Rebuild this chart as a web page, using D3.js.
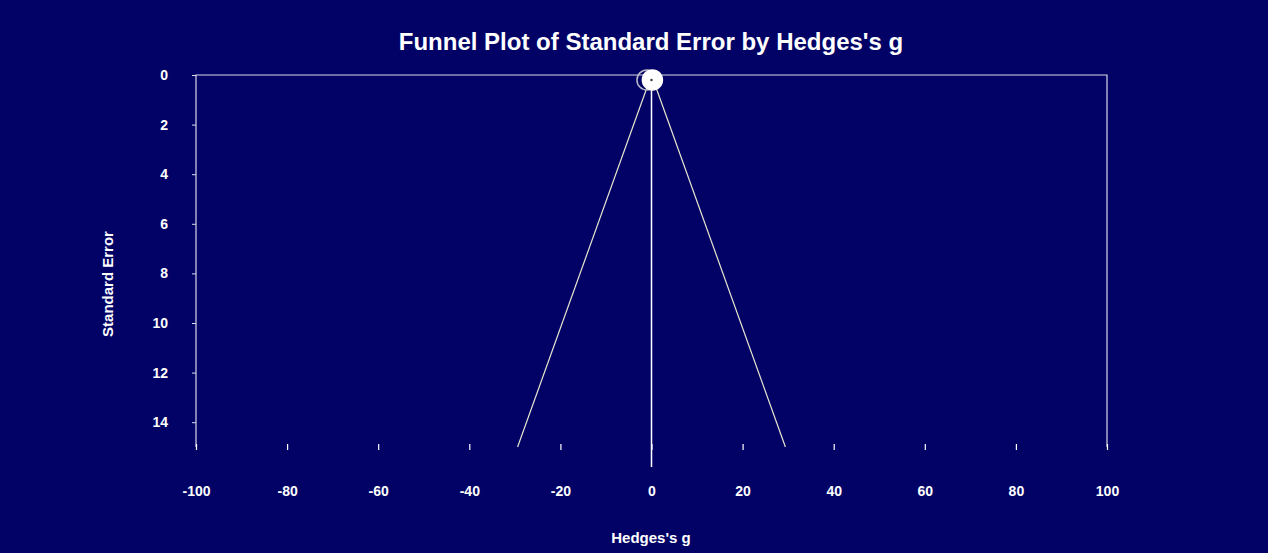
<!DOCTYPE html>
<html><head><meta charset="utf-8">
<script src="https://cdn.jsdelivr.net/npm/d3@7"></script>
<style>
html,body{margin:0;padding:0;background:#020266;}
svg{display:block;}
text{font-family:"Liberation Sans",Arial,sans-serif;font-weight:bold;fill:#fff;}
</style></head><body>
<svg id="chart" width="1268" height="553"></svg>
<script>
const xTicks = [-100,-80,-60,-40,-20,0,20,40,60,80,100];
const yTicks = [0,2,4,6,8,10,12,14];
const studyG = [-1.0, 0.2];
const studySE = [0.2, 0.2];
const studyFilled = [false, true];
const pooledG = [0.0];
const funnelSE = [0, 15];
const zCrit = 1.96;

const W = 1268, H = 553;
const L = 196, R = 1107, T = 75, B = 447;
const svg = d3.select("#chart");
svg.append("rect").attr("width",W).attr("height",H).attr("fill","#020266");

const x = d3.scaleLinear().domain([-100,100]).range([L,R]);
const y = d3.scaleLinear().domain([0,15]).range([T,B]);
const fmt = d => String(d);

// plot frame: top, left, right
svg.append("path")
  .attr("d", `M${x(-100)},${y(15)}V${y(0)}H${x(100)}V${y(15)}`)
  .attr("fill","none").attr("stroke","#d8d8e8").attr("stroke-width",1.2);

// y axis ticks & labels
const yAxis = d3.axisLeft(y).tickValues(yTicks).tickSize(4).tickPadding(24).tickFormat(fmt);
const gy = svg.append("g").attr("transform",`translate(${L},0)`).call(yAxis);
gy.select(".domain").remove();
gy.selectAll(".tick line").attr("stroke","#d8d8e8");
gy.selectAll(".tick text").attr("font-size",14).attr("fill","#fff").style("font-family","Liberation Sans, Arial, sans-serif").style("font-weight","bold");

// x axis ticks & labels (no domain line)
const xAxis = d3.axisBottom(x).tickValues(xTicks).tickSize(6).tickPadding(36).tickFormat(fmt);
const gx = svg.append("g").attr("transform",`translate(0,${y(15)-3})`).call(xAxis);
gx.select(".domain").remove();
gx.selectAll(".tick line").attr("stroke","#ffffff").attr("stroke-width",1.2);
gx.selectAll(".tick text").attr("font-size",14).attr("fill","#fff").style("font-family","Liberation Sans, Arial, sans-serif").style("font-weight","bold");

// funnel lines
const pg = pooledG[0];
const line = d3.line().x(d=>x(d[0])).y(d=>y(d[1]));
svg.append("path").attr("d", line(funnelSE.map(s=>[pg - zCrit*s, s])))
  .attr("fill","none").attr("stroke","#e8e8d0").attr("stroke-width",1.2);
svg.append("path").attr("d", line(funnelSE.map(s=>[pg + zCrit*s, s])))
  .attr("fill","none").attr("stroke","#e8e8d0").attr("stroke-width",1.2);

// vertical line at pooled effect
svg.append("line").attr("x1",x(pg)).attr("x2",x(pg)).attr("y1",y(0)).attr("y2",y(15)+20)
  .attr("stroke","#ffffff").attr("stroke-width",1.5);

// study points
studyG.forEach((g,i)=>{
  svg.append("circle").attr("cx",x(g)).attr("cy",y(studySE[i])).attr("r",10)
    .attr("fill", studyFilled[i] ? "#ffffff" : "none")
    .attr("stroke", studyFilled[i] ? "#ffffff" : "#b8b8c8").attr("stroke-width",1.5);
});
svg.append("circle").attr("cx",x(pg)).attr("cy",y(0.2)).attr("r",1.2).attr("fill","#333");

// titles
svg.append("text").attr("x",651).attr("y",50).attr("text-anchor","middle").attr("font-size",24).text("Funnel Plot of Standard Error by Hedges's g");
svg.append("text").attr("x",651).attr("y",543).attr("text-anchor","middle").attr("font-size",15).text("Hedges's g");
svg.append("text").attr("transform","translate(113,284) rotate(-90)").attr("text-anchor","middle").attr("font-size",15).text("Standard Error");
</script>
</body></html>
